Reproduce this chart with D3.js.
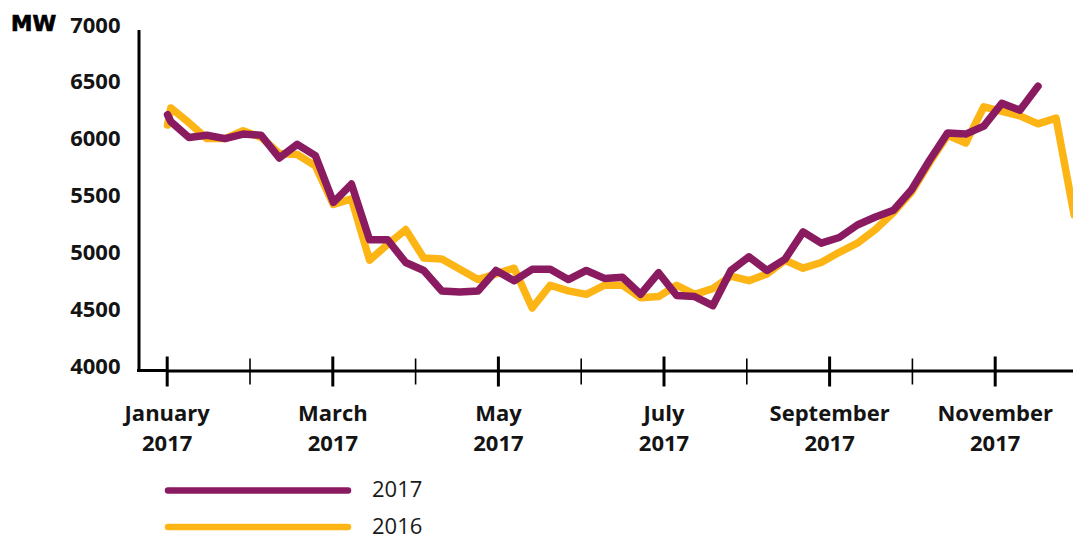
<!DOCTYPE html>
<html>
<head>
<meta charset="utf-8">
<script src="https://cdn.jsdelivr.net/npm/d3@7"></script>
<style>
  html, body { margin: 0; padding: 0; background: #fff; overflow: hidden; }
  svg { display: block; }
</style>
</head>
<body>
<svg id="chart" width="1073" height="540"></svg>
<script>
// ---- data ----
const monthNames = ["January","February","March","April","May","June","July","August","September","October","November","December"];
const labelYear = "2017";
const yTicks = [4000, 4500, 5000, 5500, 6000, 6500, 7000];
const unitLabel = "MW";
const seriesNames = ["2017", "2016"];

const values2017 = [6250, 6190, 6050, 6070, 6040, 6080, 6070, 5870, 5990, 5890,
  5480, 5640, 5150, 5150, 4950, 4880, 4700, 4690, 4700, 4880,
  4790, 4890, 4890, 4800, 4880, 4810, 4820, 4670, 4860, 4660,
  4650, 4570, 4880, 5000, 4880, 4980, 5220, 5120, 5170, 5280,
  5350, 5410, 5590, 5850, 6090, 6080, 6150, 6350, 6290, 6500];

const values2016 = [6160, 6310, 6180, 6040, 6040, 6110, 6050, 5910, 5900, 5800,
  5460, 5510, 4970, 5110, 5240, 4990, 4980, 4890, 4800, 4850,
  4900, 4550, 4750, 4700, 4670, 4750, 4750, 4640, 4650, 4750,
  4670, 4720, 4830, 4790, 4850, 4970, 4900, 4950, 5040, 5120,
  5240, 5390, 5570, 5830, 6070, 6000, 6320, 6280, 6240, 6170,
  6220, 5370];

// ---- layout ----
const colors = { "2017": "#8b1b60", "2016": "#fdb515" };
const svg = d3.select("#chart");
const x = d3.scaleLinear().domain([0, 12]).range([166.7, 1160.3]); // months
const y = d3.scaleLinear().domain([4000, 7000]).range([370.5, 29.5]);
const axisX = 138.5;

// point position in month units: first reading at start of January, then weekly readings
const WEEK = 12 / 55, LEAD = 0.05;
const pos = i => i === 0 ? 0.01 : LEAD + (i - 1) * WEEK;

const font = "'Open Sans', 'Noto Sans', sans-serif";

// ---- y axis ----
const yAxis = d3.axisLeft(y).tickValues(yTicks).tickSize(0).tickPadding(18).tickFormat(d3.format("d"));
const gy = svg.append("g").attr("transform", `translate(${axisX},0)`).call(yAxis);
gy.select(".domain").attr("stroke", "#000").attr("stroke-width", 3);
gy.selectAll("text")
  .attr("font-family", font).attr("font-weight", 700).attr("font-size", 22)
  .attr("fill", "#141414").attr("dy", "0.12em");

svg.append("text").attr("x", 11).attr("y", 31)
  .attr("font-family", "'DejaVu Sans', sans-serif").attr("font-weight", 700)
  .attr("font-size", 21.5).attr("fill", "#000")
  .attr("stroke", "#000").attr("stroke-width", 0.7).text(unitLabel);

// ---- x axis ----
const xAxis = d3.axisBottom(x).tickValues(d3.range(12)).tickSizeInner(16).tickSizeOuter(0).tickFormat(() => "");
const gx = svg.append("g").attr("transform", `translate(0,${y(4000)})`).call(xAxis);
gx.select(".domain").attr("stroke", "#000").attr("stroke-width", 3);
gx.selectAll(".tick line")
  .attr("stroke", "#000")
  .attr("y1", d => d % 2 === 0 ? -14 : -12)
  .attr("y2", d => d % 2 === 0 ? 16 : 14)
  .attr("stroke-width", d => d % 2 === 0 ? 3 : 1.6);
svg.append("line").attr("x1", axisX - 1.5).attr("x2", x(0))
  .attr("y1", y(4000)).attr("y2", y(4000)).attr("stroke", "#000").attr("stroke-width", 3);

gx.selectAll(".tick").filter(d => d % 2 === 0).each(function(d) {
  const t = d3.select(this).select("text")
    .attr("font-family", font).attr("font-weight", 700).attr("font-size", 22)
    .attr("fill", "#141414").attr("y", 0).attr("dy", null);
  t.append("tspan").attr("x", 0).attr("y", 50).text(monthNames[d]);
  t.append("tspan").attr("x", 0).attr("y", 80.5).text(labelYear);
});

// ---- lines ----
const line = d3.line().x((d, i) => x(pos(i))).y(d => y(d));
const series = [
  { name: "2016", values: values2016 },
  { name: "2017", values: values2017 }
];
svg.selectAll("path.series").data(series).join("path")
  .attr("class", "series")
  .attr("d", d => line(d.values))
  .attr("fill", "none")
  .attr("stroke", d => colors[d.name])
  .attr("stroke-width", 7.5)
  .attr("stroke-linejoin", "round")
  .attr("stroke-linecap", "round");

// ---- legend ----
const legend = svg.append("g");
seriesNames.forEach((name, i) => {
  const ly = 490.5 + i * 36.5;
  legend.append("line").attr("x1", 168).attr("x2", 348).attr("y1", ly).attr("y2", ly)
    .attr("stroke", colors[name]).attr("stroke-width", 6.5).attr("stroke-linecap", "round");
  legend.append("text").attr("x", 372).attr("y", ly + 6.5)
    .attr("font-family", font).attr("font-size", 22).attr("fill", "#1a1a1a").text(name);
});
</script>
</body>
</html>
